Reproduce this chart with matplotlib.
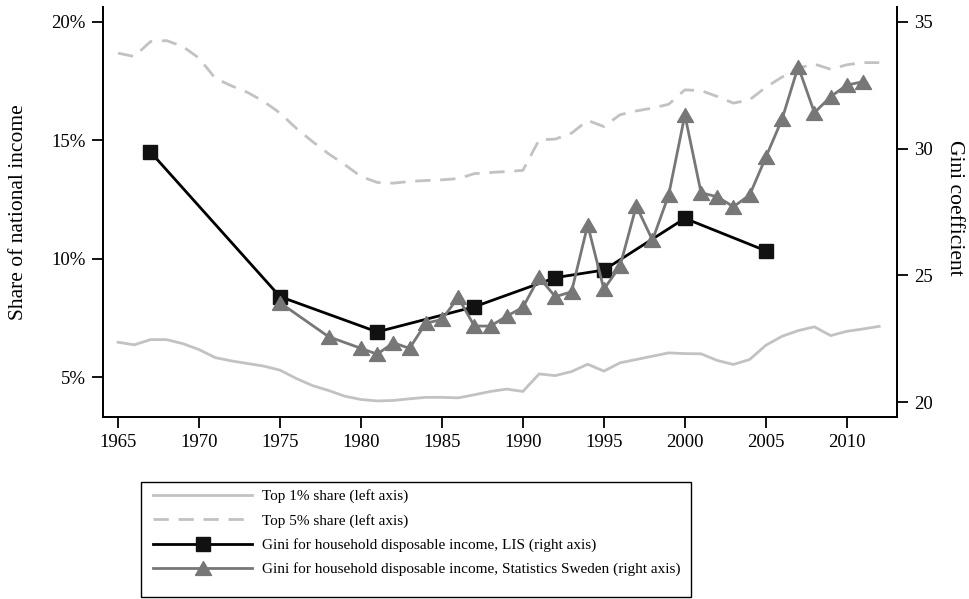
import matplotlib
matplotlib.use("Agg")
import matplotlib.pyplot as plt
from matplotlib.patches import Rectangle
from matplotlib.ticker import FuncFormatter

plt.rcParams["font.family"] = ["Liberation Serif", "DejaVu Serif"]

years = list(range(1965, 2013))
top1 = [6.47, 6.36, 6.58, 6.58, 6.41, 6.16, 5.82, 5.68, 5.57, 5.46,
        5.29, 4.94, 4.64, 4.43, 4.19, 4.05, 3.99, 4.01, 4.08, 4.14,
        4.14, 4.12, 4.25, 4.39, 4.49, 4.39, 5.13, 5.06, 5.23, 5.54,
        5.25, 5.60, 5.74, 5.88, 6.02, 5.99, 5.98, 5.70, 5.53, 5.74,
        6.34, 6.72, 6.96, 7.12, 6.75, 6.93, 7.03, 7.14]
top5 = [18.68, 18.54, 19.17, 19.21, 18.96, 18.47, 17.62, 17.30, 17.02, 16.64,
        16.15, 15.51, 14.95, 14.43, 13.97, 13.47, 13.22, 13.19, 13.26, 13.30,
        13.33, 13.38, 13.59, 13.64, 13.68, 13.73, 15.02, 15.05, 15.30, 15.84,
        15.58, 16.08, 16.24, 16.36, 16.52, 17.13, 17.10, 16.85, 16.57, 16.71,
        17.24, 17.67, 18.05, 18.22, 18.00, 18.19, 18.28, 18.28]

lis_years = [1967, 1975, 1981, 1987, 1992, 1995, 2000, 2005]
lis_gini = [29.87, 24.16, 22.77, 23.76, 24.91, 25.21, 27.25, 25.97]

scb_years = [1975, 1978, 1980, 1981, 1982, 1983, 1984, 1985, 1986, 1987,
             1988, 1989, 1990, 1991, 1992, 1993, 1994, 1995, 1996, 1997,
             1998, 1999, 2000, 2001, 2002, 2003, 2004, 2005, 2006, 2007,
             2008, 2009, 2010, 2011]
scb_gini = [23.92, 22.58, 22.12, 21.89, 22.34, 22.12, 23.11, 23.26, 24.13, 23.00,
            23.00, 23.39, 23.74, 24.92, 24.16, 24.35, 26.99, 24.45, 25.37, 27.74,
            26.39, 28.17, 31.33, 28.26, 28.10, 27.71, 28.17, 29.66, 31.16, 33.24,
            31.42, 32.05, 32.51, 32.64]

labels = ["Top 1% share (left axis)",
          "Top 5% share (left axis)",
          "Gini for household disposable income, LIS (right axis)",
          "Gini for household disposable income, Statistics Sweden (right axis)"]

light = "#c2c2c2"
mid = "#777777"
# equilateral triangle, wider than tall like the Stata marker
tri = [(-1, -0.866), (1, -0.866), (0, 0.866), (-1, -0.866)]

fig = plt.figure(figsize=(9.69, 5.99), dpi=100)
ax = fig.add_axes([0.1063, 0.3038, 0.8194, 0.6845])
ax2 = ax.twinx()

l1, = ax.plot(years, top1, color=light, lw=2.0)
l2, = ax.plot(years, top5, color=light, lw=2.0, dashes=(5.5, 3.5))
l3, = ax2.plot(lis_years, lis_gini, color="black", lw=2.0, marker="s",
               markersize=9.5, markerfacecolor="#111111", markeredgecolor="#111111")
l4, = ax2.plot(scb_years, scb_gini, color=mid, lw=2.0, marker=tri,
               markersize=11.5, markerfacecolor=mid, markeredgecolor=mid)

ax.set_xlim(1964.07, 2013.1)
ax.set_ylim(3.31, 20.63)
ax2.set_ylim(19.41, 35.59)

ax.set_xticks(range(1965, 2011, 5))
ax.set_yticks([5, 10, 15, 20])
ax.yaxis.set_major_formatter(FuncFormatter(lambda v, p: f"{v:.0f}%"))
ax2.set_yticks([20, 25, 30, 35])

for a in (ax, ax2):
    a.spines["top"].set_visible(False)
    for s in a.spines.values():
        s.set_linewidth(1.3)
    a.tick_params(direction="out", length=8, width=1.3, labelsize=13.5, pad=4.5)

ax.set_ylabel("Share of national income", fontsize=15.5, va="center")
ax.yaxis.set_label_coords(-0.106, 0.5)
ax2.set_ylabel("Gini coefficient", fontsize=15.5, rotation=270, va="center")
ax2.yaxis.set_label_coords(1.073, 0.51)

leg = fig.legend(
    [l1, l2, l3, l4], labels,
    loc="upper left", bbox_to_anchor=(0.158, 0.183), fontsize=11.0,
    handlelength=6.5, handletextpad=0.62, labelspacing=0.68, numpoints=1,
    frameon=False, borderpad=0, borderaxespad=0,
)
# legend box drawn separately (more room at the bottom, as in the original)
fig.patches.append(Rectangle((141 / 969, 1 - 597 / 599), 550 / 969, 115 / 599,
                             transform=fig.transFigure, fill=False,
                             edgecolor="black", linewidth=1.0))

fig.savefig("out.png", dpi=100)
